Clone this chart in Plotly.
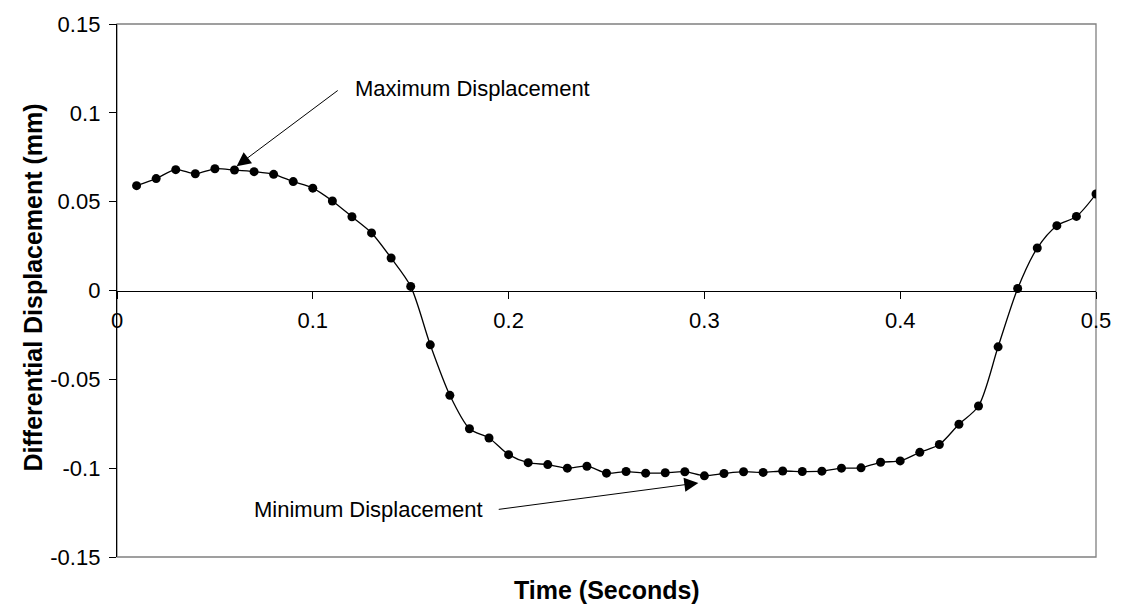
import plotly.graph_objects as go

time_s = [0.01, 0.02, 0.03, 0.04, 0.05, 0.06, 0.07, 0.08, 0.09, 0.10,
          0.11, 0.12, 0.13, 0.14, 0.15, 0.16, 0.17, 0.18, 0.19, 0.20,
          0.21, 0.22, 0.23, 0.24, 0.25, 0.26, 0.27, 0.28, 0.29, 0.30,
          0.31, 0.32, 0.33, 0.34, 0.35, 0.36, 0.37, 0.38, 0.39, 0.40,
          0.41, 0.42, 0.43, 0.44, 0.45, 0.46, 0.47, 0.48, 0.49, 0.50]

displacement_mm = [0.0590, 0.0630, 0.0680, 0.0657, 0.0685, 0.0678, 0.0669, 0.0654, 0.0613, 0.0576,
                   0.0504, 0.0415, 0.0324, 0.0183, 0.0023, -0.0306, -0.0590, -0.0778, -0.0830, -0.0924,
                   -0.0969, -0.0980, -0.1000, -0.0989, -0.1028, -0.1019, -0.1028, -0.1026, -0.1020, -0.1043,
                   -0.1030, -0.1020, -0.1024, -0.1016, -0.1019, -0.1017, -0.1000, -0.0998, -0.0967, -0.0959,
                   -0.0911, -0.0867, -0.0753, -0.0650, -0.0317, 0.0011, 0.0239, 0.0365, 0.0417, 0.0543]

y_tick_vals = [0.15, 0.1, 0.05, 0, -0.05, -0.1, -0.15]
y_tick_text = ["0.15", "0.1", "0.05", "0", "-0.05", "-0.1", "-0.15"]
x_tick_vals = [0, 0.1, 0.2, 0.3, 0.4, 0.5]
x_tick_text = ["0", "0.1", "0.2", "0.3", "0.4", "0.5"]

FONT = "Liberation Sans, Arial, sans-serif"

fig = go.Figure()
fig.add_trace(go.Scatter(
    x=time_s, y=displacement_mm, mode="lines+markers",
    line=dict(color="black", width=1.3, shape="spline", smoothing=0.8),
    marker=dict(color="black", size=9),
    showlegend=False,
))

# plot-area border (gray)
fig.add_shape(type="rect", xref="paper", yref="paper", x0=0, x1=1, y0=0, y1=1,
              line=dict(color="#808080", width=1.3), layer="below")

fig.update_layout(
    width=1123, height=615,
    margin=dict(l=117, r=27, t=17, b=58),
    paper_bgcolor="white", plot_bgcolor="white",
    font=dict(family=FONT, size=22, color="black"),
    xaxis=dict(
        range=[0, 0.5], tickvals=x_tick_vals, ticktext=x_tick_text,
        showgrid=False, zeroline=False,
        showline=True, linecolor="black", linewidth=1.3,
        ticks="outside", ticklen=7, tickcolor="black", tickwidth=1,
        anchor="free", position=0.5, ticklabelstandoff=3,
        tickfont=dict(size=22),
    ),
    yaxis=dict(
        range=[-0.15, 0.15], tickvals=y_tick_vals, ticktext=y_tick_text,
        showgrid=False, zeroline=False,
        showline=True, linecolor="black", linewidth=1.3,
        ticks="outside", ticklen=7, tickcolor="black", tickwidth=1,
        ticklabelstandoff=4,
        tickfont=dict(size=22),
    ),
    annotations=[
        dict(x=0.0611, y=0.0700, ax=0.1135, ay=0.1132, xref="x", yref="y",
             axref="x", ayref="y", text="", showarrow=True, arrowhead=2,
             arrowsize=2.8, arrowwidth=1, arrowcolor="black", standoff=0),
        dict(x=0.1205, y=0.1139, xref="x", yref="y", text="Maximum Displacement",
             showarrow=False, xanchor="left", yanchor="middle",
             font=dict(family=FONT, size=22, color="black")),
        dict(x=0.2969, y=-0.1083, ax=0.1942, ay=-0.1233, xref="x", yref="y",
             axref="x", ayref="y", text="", showarrow=True, arrowhead=2,
             arrowsize=2.8, arrowwidth=1, arrowcolor="black", standoff=0),
        dict(x=0.188, y=-0.1233, xref="x", yref="y", text="Minimum Displacement",
             showarrow=False, xanchor="right", yanchor="middle",
             font=dict(family=FONT, size=22, color="black")),
        dict(x=0.5, y=0, xref="paper", yref="paper",
             text="<b>Time (Seconds)</b>", showarrow=False,
             xanchor="center", yanchor="middle", yshift=-33,
             font=dict(family=FONT, size=25, color="black")),
        dict(x=0, y=0.5, xref="paper", yref="paper",
             text="<b>Differential Displacement (mm)</b>", showarrow=False,
             textangle=-90, xanchor="center", yanchor="middle", xshift=-85,
             yshift=3,
             font=dict(family=FONT, size=25, color="black")),
    ],
)

fig.write_html("out.html")
